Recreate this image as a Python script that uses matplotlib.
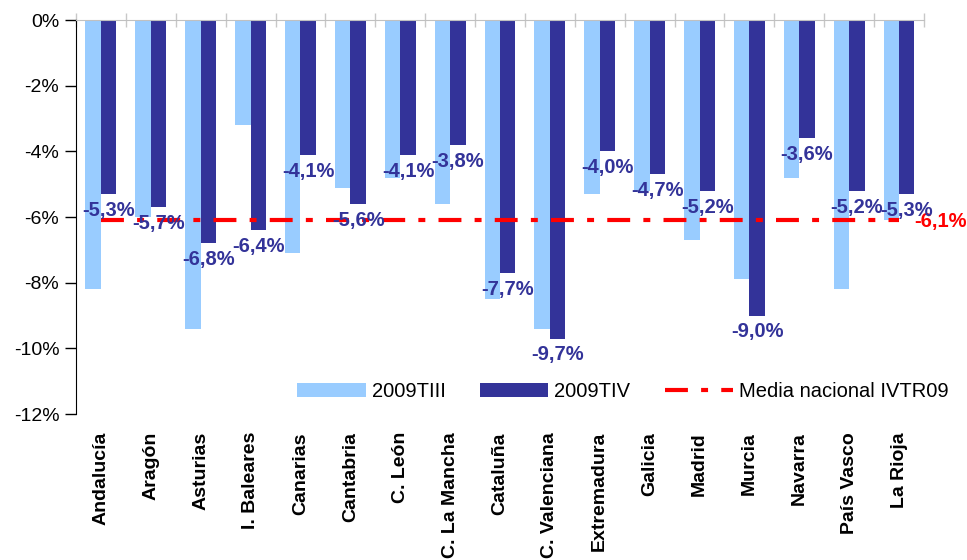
import matplotlib
matplotlib.use("Agg")
import matplotlib.pyplot as plt
import numpy as np

plt.rcParams['font.family'] = ['Liberation Sans', 'DejaVu Sans']
plt.rcParams['lines.scale_dashes'] = False

regions = ["Andalucía", "Aragón", "Asturias", "I. Baleares", "Canarias", "Cantabria",
           "C. León", "C. La Mancha", "Cataluña", "C. Valenciana", "Extremadura",
           "Galicia", "Madrid", "Murcia", "Navarra", "País Vasco", "La Rioja"]
t3_2009 = [-8.2, -6.0, -9.4, -3.2, -7.1, -5.1, -4.8, -5.6, -8.5, -9.4, -5.3,
           -5.2, -6.7, -7.9, -4.8, -8.2, -6.1]
t4_2009 = [-5.3, -5.7, -6.8, -6.4, -4.1, -5.6, -4.1, -3.8, -7.7, -9.7, -4.0,
           -4.7, -5.2, -9.0, -3.6, -5.2, -5.3]
media_nacional = -6.1
series_names = ["2009TIII", "2009TIV", "Media nacional IVTR09"]
yticks = [0, -2, -4, -6, -8, -10, -12]

light = "#99CCFF"
dark = "#333399"
red = "#FF0000"

fig = plt.figure(figsize=(9.67, 5.6), dpi=100)
ax = fig.add_axes([0.0786, 0.2607, 0.8769, 0.7033])

x = np.arange(len(regions))
w = 0.31
b1 = ax.bar(x - w / 2, t3_2009, w, color=light, label=series_names[0], zorder=2)
b2 = ax.bar(x + w / 2, t4_2009, w, color=dark, label=series_names[1], zorder=2)
ln, = ax.plot(x, [media_nacional] * len(x), color=red, lw=3.0,
              dashes=(16.5, 9.5, 5.0, 9.5), label=series_names[2], zorder=3)

def fmt(v):
    return ("%.1f%%" % v).replace(".", ",")

for xi, v in zip(x, t4_2009):
    ax.annotate(fmt(v), (xi + w / 2, v), xytext=(0, -5), textcoords="offset points",
                ha="center", va="top", color=dark, fontsize=14.5, fontweight="bold",
                zorder=4)
ax.annotate(fmt(media_nacional), (x[-1], media_nacional), xytext=(11, -1),
            textcoords="offset points", ha="left", va="center", color=red,
            fontsize=14.5, fontweight="bold", annotation_clip=False)

ax.set_xlim(-0.5, len(regions) - 0.5)
ax.set_ylim(-12, 0)
ax.set_yticks(yticks)
ax.set_yticklabels(["%d%%" % t for t in yticks], fontsize=14)
ax.tick_params(axis="y", direction="out", length=8, width=1, color="black", pad=4)

ax.set_xticks(x)
ax.set_xticklabels(regions, rotation=90, fontsize=14, fontweight="bold")
ax.set_xticks(np.arange(len(regions) + 1) - 0.5, minor=True)
ax.tick_params(axis="x", which="major", length=0, pad=13, bottom=True, top=False)
ax.tick_params(axis="x", which="minor", top=True, bottom=False, direction="inout",
               length=10, color="#C8C8C8", width=1)

for s in ["right", "bottom"]:
    ax.spines[s].set_visible(False)
ax.spines["top"].set_color("#C0C0C0")
ax.spines["left"].set_color("black")

ax.legend([b1, b2, ln], series_names, loc="center", bbox_to_anchor=(0.645, 0.056),
          ncol=3, frameon=False, fontsize=14.5, handlelength=3.4, handleheight=0.7,
          handletextpad=0.3, columnspacing=1.7)

fig.savefig("out.png", dpi=100)
